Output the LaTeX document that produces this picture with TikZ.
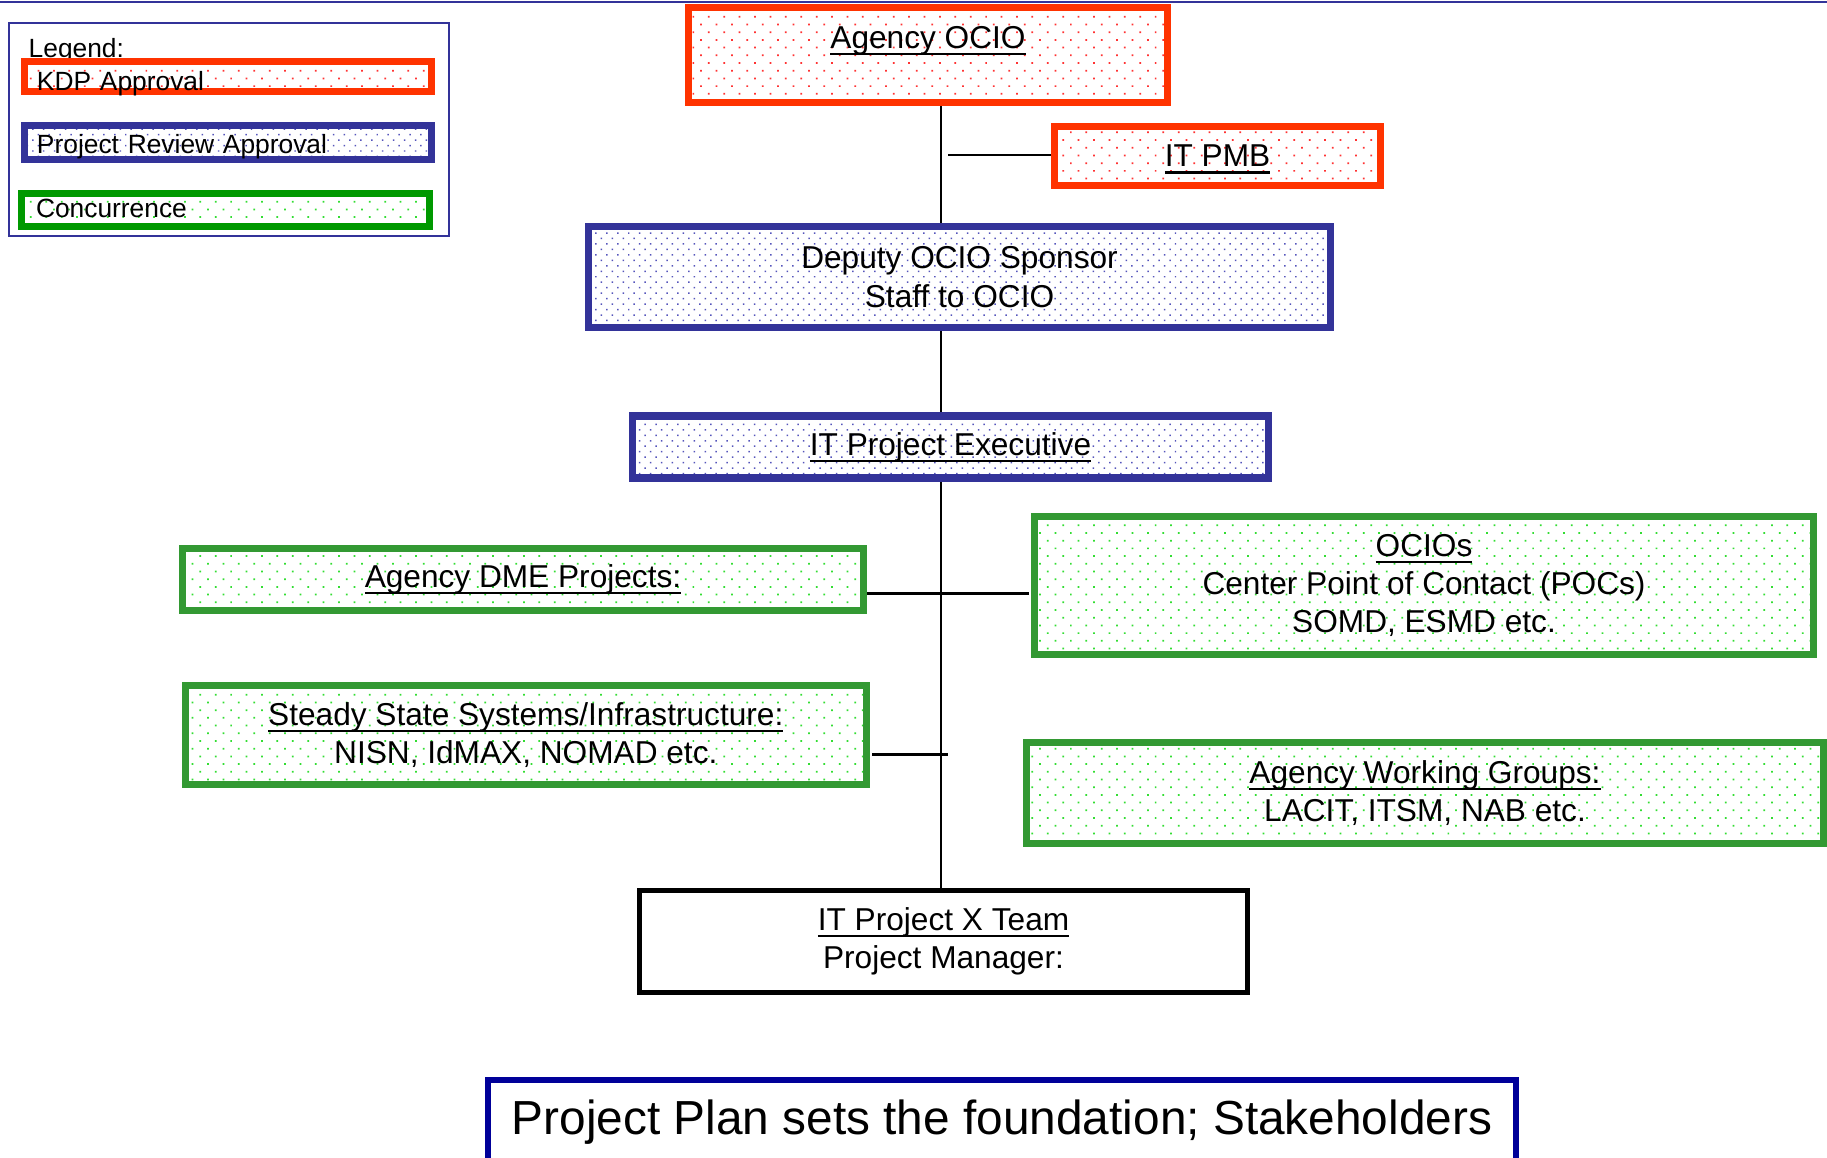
\documentclass[tikz,border=0pt]{standalone}
\usepackage{fontspec}
\setmainfont{Liberation Sans}
\usetikzlibrary{patterns.meta,backgrounds}
\newcommand{\uln}[1]{\leavevmode\setbox0\hbox{#1}\rlap{\smash{\vrule height -1.3pt depth 1.9pt width \wd0}}\box0}
\definecolor{kdporange}{HTML}{FF3300}
\definecolor{kdpdot}{HTML}{FF3333}
\definecolor{revblue}{HTML}{333399}
\definecolor{revdot}{HTML}{5555BB}
\definecolor{congreen}{HTML}{339933}
\definecolor{condot}{HTML}{33DD33}
\definecolor{legreen}{HTML}{009900}
\definecolor{plannavy}{HTML}{000099}
\tikzset{
	box/.style={rectangle, inner sep=0pt, align=center, font=\fontsize{9}{10.9}\selectfont},
	kdpbox/.style={box, draw=kdporange, line width=2pt, pattern={Dots[distance=3.1pt, angle=45, radius=0.35pt]}, pattern color=kdpdot},
	reviewbox/.style={box, draw=revblue, line width=2pt, pattern={Dots[distance=2.2pt, angle=45, radius=0.3pt]}, pattern color=revdot},
	concurbox/.style={box, draw=congreen, line width=2pt, pattern={Dots[distance=3.1pt, angle=45, radius=0.35pt]}, pattern color=condot},
	teambox/.style={box, draw=black, line width=1.4pt},
	planbox/.style={rectangle, draw=plannavy, line width=1.6pt, inner sep=0pt, font=\fontsize{13.6}{16}\selectfont},
	legbox/.style={inner xsep=0.125cm, inner ysep=0pt, text width=3.82cm, align=left, font=\fontsize{7.5}{9}\selectfont},
	link/.style={line width=0.7pt}
}
\begin{document}
\begin{tikzpicture}
	\useasboundingbox (0,0) rectangle (18.27,-11.57);
	\clip (0,0) rectangle (18.27,-11.57);
	\draw[revblue, line width=0.6pt] (0,-0.02) -- (18.27,-0.02);

	% legend
	\node(legend) [draw=revblue, line width=0.6pt, minimum width=4.40cm, minimum height=2.13cm] at (2.29,-1.295) {};
	\node(legtitle) [anchor=base west, inner sep=0pt, font=\fontsize{7.5}{9}\selectfont] at (0.28,-0.57) {Legend:};
	\node(legkdp) [kdpbox, legbox, text height=0.285cm, text depth=0.015cm] at (2.28,-0.765) {KDP Approval};
	\node(legreview) [reviewbox, legbox, text height=0.275cm, text depth=0.065cm] at (2.28,-1.425) {Project Review Approval};
	\node(legconcur) [concurbox, legbox, draw=legreen, inner xsep=0.145cm, text width=3.79cm, text height=0.235cm, text depth=0.095cm] at (2.255,-2.10) {Concurrence};

	% chart
	\node(ocio) [kdpbox, minimum width=4.79cm, text height=0.405cm, text depth=0.545cm, anchor=north] at (9.28,-0.04) {\uln{Agency OCIO}};
	\node(pmb) [kdpbox, minimum width=3.26cm, minimum height=0.59cm] at (12.175,-1.56) {\uln{IT PMB}};
	\node(deputy) [reviewbox, minimum width=7.42cm, minimum height=1.01cm] at (9.595,-2.77) {Deputy OCIO Sponsor\\Staff to OCIO};
	\node(exec) [reviewbox, minimum width=6.36cm, minimum height=0.62cm] at (9.505,-4.47) {\uln{IT Project Executive}};
	\node(dme) [concurbox, minimum width=6.81cm, minimum height=0.62cm] at (5.23,-5.795) {\uln{Agency DME Projects:}};
	\node(ocios) [concurbox, minimum width=7.79cm, minimum height=1.38cm] at (14.24,-5.855) {\uln{OCIOs}\\Center Point of Contact (POCs)\\SOMD, ESMD etc.};
	\node(steady) [concurbox, minimum width=6.815cm, minimum height=0.99cm] at (5.258,-7.348) {\uln{Steady State Systems/Infrastructure:}\\NISN, IdMAX, NOMAD etc.};
	\node(groups) [concurbox, minimum width=7.97cm, minimum height=1.01cm] at (14.25,-7.93) {\uln{Agency Working Groups:}\\LACIT, ITSM, NAB etc.};
	\node(team) [teambox, minimum width=6.08cm, minimum height=1.02cm] at (9.435,-9.415) {\uln{IT Project X Team}\\Project Manager:};
	\node(plan) [planbox, minimum width=10.285cm, text height=0.55cm, text depth=1.2cm, anchor=north] at (10.02,-10.77) {Project Plan sets the foundation; Stakeholders};

	\coordinate(spine) at (9.41,0);
	\coordinate(pmbstub) at (9.48,-1.55);
	\coordinate(dmestub) at (10.29,-5.933);
	\coordinate(steadyend) at (8.72,-7.543);
	\coordinate(steadystub) at (9.477,-7.543);

	\begin{scope}[on background layer]
		\draw[link] (ocio.south -| spine) -- (deputy.north -| spine);
		\draw[link] (deputy.south -| spine) -- (exec.north -| spine);
		\draw[link] (exec.south -| spine) -- (team.north -| spine);
		\draw[link] (pmbstub) -- (pmbstub -| pmb.west);
		\draw[link] (dmestub -| dme.east) -- (dmestub);
		\draw[link] (steadyend) -- (steadystub);
	\end{scope}
\end{tikzpicture}
\end{document}
